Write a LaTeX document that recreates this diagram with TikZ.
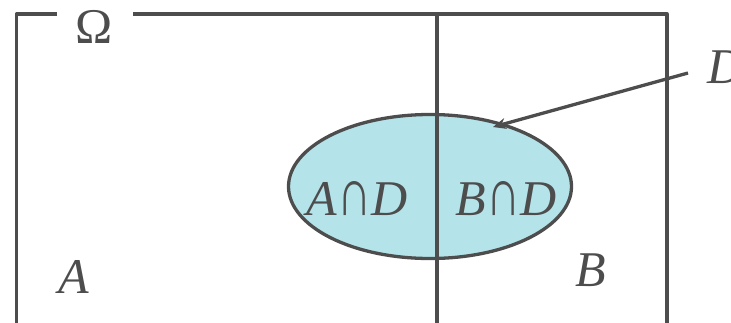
\documentclass[tikz,border=0pt]{standalone}
\usepackage{fontspec}
\setmainfont{Liberation Serif}
\usetikzlibrary{arrows.meta,shapes.geometric}
\definecolor{linegray}{RGB}{77,77,77}
\definecolor{setfill}{RGB}{180,227,233}
\newcommand{\tallcap}{\scalebox{0.95}[1.35]{∩}}

\begin{document}
\begin{tikzpicture}[x=1pt, y=-1pt, line join=round, font=\fontsize{50}{60}\selectfont,
	border/.style={line width=3.3pt, draw=linegray},
	lbl/.style={text=linegray, inner sep=0pt, anchor=base}]
	\useasboundingbox (0,0) rectangle (731,322);
	\clip (0,0) rectangle (731,322);

	% Biến cố D
	\node[ellipse, border, fill=setfill, minimum width=283pt, minimum height=144pt, inner sep=0pt] (ell) at (430,186.5) {};

	% Không gian mẫu và phân hoạch A, B
	\draw[border] (57,14) -- (16.5,14) -- (16.5,330);
	\draw[border] (133,14) -- (667,14) -- (667,330);
	\draw[border] (437,14) -- (437,330);

	% Nhãn
	\node[lbl] (omega) at (94.5,43) {Ω};
	\node[lbl] (setA) at (74,293) {\textit{A}};
	\node[lbl] (setB) at (591,286) {\textit{B}};
	\node[lbl] (AD) at (357.5,215) {\textit{A}\tallcap\textit{D}};
	\node[lbl] (BD) at (506,215) {\textit{B}\tallcap\textit{D}};
	\node[lbl, anchor=base west] (setD) at (707,83) {\textit{D}};

	% Mũi tên chỉ D
	\coordinate (dstart) at (688,73);
	\coordinate (dtip) at (493,127);
	\draw[border, -{Stealth[length=13pt, width=11pt]}] (dstart) -- (dtip);
\end{tikzpicture}
\end{document}
